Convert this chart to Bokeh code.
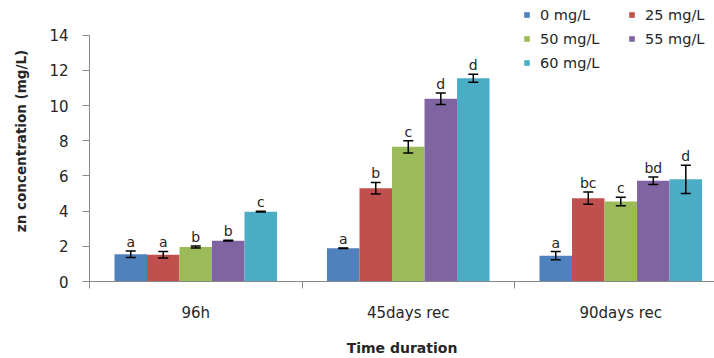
from bokeh.plotting import figure
from bokeh.models import (ColumnDataSource, Range1d, FixedTicker, Whisker, TeeHead,
                          Legend, LegendItem)
from bokeh.core.properties import value
from bokeh.embed import file_html
from bokeh.resources import INLINE

# ---- data ----
categories = ["96h", "45days rec", "90days rec"]
series_labels = ["0 mg/L", "25 mg/L", "50 mg/L", "55 mg/L", "60 mg/L"]

vals_0 = [1.55, 1.89, 1.47]
vals_25 = [1.52, 5.30, 4.74]
vals_50 = [1.96, 7.66, 4.55]
vals_55 = [2.32, 10.39, 5.73]
vals_60 = [3.97, 11.56, 5.81]

err_0 = [0.19, 0.02, 0.23]
err_25 = [0.19, 0.33, 0.35]
err_50 = [0.06, 0.35, 0.24]
err_55 = [0.02, 0.33, 0.21]
err_60 = [0.02, 0.23, 0.80]

letters_0 = ["a", "a", "a"]
letters_25 = ["a", "b", "bc"]
letters_50 = ["b", "c", "c"]
letters_55 = ["b", "d", "bd"]
letters_60 = ["c", "d", "d"]

y_ticks = [0, 2, 4, 6, 8, 10, 12, 14]

colors = ["#4F81BD", "#C0504D", "#9BBB59", "#8064A2", "#4BACC6"]

all_vals = [vals_0, vals_25, vals_50, vals_55, vals_60]
all_errs = [err_0, err_25, err_50, err_55, err_60]
all_letters = [letters_0, letters_25, letters_50, letters_55, letters_60]

# ---- figure ----
AX = "#888888"
TXT = "#262626"
FONT = "DejaVu Sans"

p = figure(width=714, height=358, output_backend="svg", toolbar_location=None,
           x_range=Range1d(0, 2.941), y_range=Range1d(0, 15.98),
           min_border_left=89, min_border_right=0, min_border_top=0,
           min_border_bottom=76)
p.outline_line_color = None
p.xgrid.grid_line_color = None
p.ygrid.grid_line_color = None
p.background_fill_color = "white"

bar_w = 0.153
renderers = []
for j in range(5):
    xs = [i + 0.5 + (j - 2) * bar_w for i in range(len(categories))]
    src = ColumnDataSource(dict(
        x=xs, top=all_vals[j],
        upper=[v + e for v, e in zip(all_vals[j], all_errs[j])],
        lower=[v - e for v, e in zip(all_vals[j], all_errs[j])],
        letter=all_letters[j]))
    r = p.vbar(x="x", top="top", width=bar_w, source=src,
               fill_color=colors[j], line_color=None)
    renderers.append(r)
    w = Whisker(source=src, base="x", upper="upper", lower="lower",
                line_color="black", line_width=1.5, level="annotation",
                upper_head=TeeHead(size=10, line_width=1.5, line_color="black"),
                lower_head=TeeHead(size=10, line_width=1.5, line_color="black"))
    p.add_layout(w)
    p.text(x="x", y="upper", text="letter", source=src, text_align="center",
           text_baseline="alphabetic", y_offset=-9,
           text_font=value(FONT), text_font_size="14px", text_color=TXT)

# ---- axes ----
p.yaxis.ticker = FixedTicker(ticks=y_ticks)
p.yaxis.bounds = (0, 14)
p.yaxis.axis_line_color = AX
p.yaxis.major_tick_line_color = AX
p.yaxis.major_tick_out = 7
p.yaxis.major_tick_in = 0
p.yaxis.minor_tick_line_color = None
p.yaxis.major_label_text_font = FONT
p.yaxis.major_label_text_font_size = "15px"
p.yaxis.major_label_text_color = TXT
p.yaxis.major_label_standoff = 14
p.yaxis.axis_label = "zn concentration (mg/L)"
p.yaxis.axis_label_text_font = FONT
p.yaxis.axis_label_text_font_style = "bold"
p.yaxis.axis_label_text_font_size = "13.5px"
p.yaxis.axis_label_text_color = TXT
p.yaxis.axis_label_standoff = 17

p.xaxis.ticker = FixedTicker(ticks=[i + 0.5 for i in range(len(categories))],
                             minor_ticks=list(range(len(categories) + 1)))
p.xaxis.major_label_overrides = {i + 0.5: c for i, c in enumerate(categories)}
p.xaxis.axis_line_color = AX
p.xaxis.major_tick_line_color = None
p.xaxis.major_tick_out = 0
p.xaxis.major_tick_in = 0
p.xaxis.minor_tick_line_color = AX
p.xaxis.minor_tick_out = 7
p.xaxis.minor_tick_in = 0
p.xaxis.major_label_text_font = FONT
p.xaxis.major_label_text_font_size = "15px"
p.xaxis.major_label_text_color = TXT
p.xaxis.major_label_standoff = 15
p.xaxis.axis_label = "Time duration"
p.xaxis.axis_label_text_font = FONT
p.xaxis.axis_label_text_font_style = "bold"
p.xaxis.axis_label_text_font_size = "14px"
p.xaxis.axis_label_text_color = TXT
p.xaxis.axis_label_standoff = 15

# ---- legends (two columns) ----
def make_legend(idx, loc):
    items = [LegendItem(label=series_labels[k], renderers=[renderers[k]]) for k in idx]
    leg = Legend(items=items, location=loc, orientation="vertical",
                 background_fill_alpha=0, border_line_color=None,
                 padding=0, margin=0, spacing=7, label_height=17,
                 glyph_height=7, glyph_width=7, label_standoff=10,
                 label_text_font=FONT, label_text_font_size="14.5px",
                 label_text_color=TXT)
    return leg

p.add_layout(make_legend([0, 2, 4], (434, 210)))
p.add_layout(make_legend([1, 3], (539, 234)))

open("out.html", "w").write(file_html(p, INLINE))
